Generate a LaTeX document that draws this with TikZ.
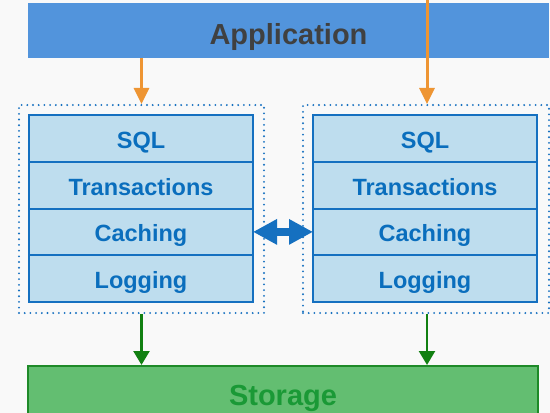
\documentclass[tikz,border=0pt]{standalone}
\usepackage{fontspec}
\setmainfont{Liberation Sans}
\usetikzlibrary{arrows.meta,positioning}
\definecolor{appblue}{HTML}{5294DC}
\definecolor{apptext}{HTML}{404040}
\definecolor{orangeA}{HTML}{EE9533}
\definecolor{cellfill}{HTML}{BEDDEE}
\definecolor{cellblue}{HTML}{1570C0}
\definecolor{celltext}{HTML}{0A6EBD}
\definecolor{stofill}{HTML}{63BE71}
\definecolor{stoline}{HTML}{1E8A28}
\definecolor{stotext}{HTML}{1A9936}
\definecolor{greenA}{HTML}{128012}
\definecolor{backg}{HTML}{F9F9F9}
\tikzset{
    AP/.style ={rectangle,inner sep=0pt,minimum width=521pt,minimum height=55pt,text height=27pt,text depth=0pt,fill=appblue,text=apptext,font=\bfseries\fontsize{29}{30}\selectfont},
    LY/.style ={rectangle,inner sep=0pt,outer sep=0pt,minimum width=224pt,minimum height=46.75pt,text height=20pt,text depth=0pt,draw=cellblue,line width=1.8pt,fill=cellfill,text=celltext,font=\bfseries\fontsize{23.5}{24}\selectfont},
    DV/.style ={draw=cellblue,line width=2pt},
    GR/.style ={rectangle,inner sep=0pt,minimum width=245pt,minimum height=208pt,draw=cellblue,line width=2.1pt,dash pattern=on 0pt off 5.7pt,line cap=round},
    ST/.style ={rectangle,inner sep=0pt,minimum width=510pt,minimum height=59pt,text height=19pt,text depth=0pt,fill=stofill,draw=stoline,line width=2pt,text=stotext,font=\bfseries\fontsize{29}{30}\selectfont},
    OA/.style ={draw=orangeA,line width=3pt,-{Triangle[width=15pt,length=16pt]}},
    GA/.style ={draw=greenA,line width=2.5pt,-{Triangle[width=16pt,length=14pt]}},
    BA/.style ={draw=cellblue,line width=8pt,{Triangle[width=24pt,length=24pt]}-{Triangle[width=24pt,length=24pt]}}}

\begin{document}
\begin{tikzpicture}[x=1pt,y=-1pt]
        \useasboundingbox (0,0) rectangle (550,413);
        \clip (0,0) rectangle (550,413);
        \fill[backg] (0,0) rectangle (550,413);
        % application
        \node[AP] (app) at (288.5,30.5) {Application};
        % the two groups of layers
        \node[GR] (grpA) at (141.5,209) {};
        \node[GR,minimum width=246pt] (grpB) at (426,209) {};
        \node[LY] (sqlA) at (141,138.4) {SQL};
        \node[LY,below=0pt of sqlA] (traA) {Transactions};
        \node[LY,below=0pt of traA] (cacA) {Caching};
        \node[LY,below=0pt of cacA] (logA) {Logging};
        \node[LY] (sqlB) at (425,138.4) {SQL};
        \node[LY,below=0pt of sqlB] (traB) {Transactions};
        \node[LY,below=0pt of traB] (cacB) {Caching};
        \node[LY,below=0pt of cacB] (logB) {Logging};
        \foreach \n in {traA,cacA,logA,traB,cacB,logB}
            \draw[DV] (\n.north west) -- (\n.north east);
        % storage
        \node[ST] (sto) at (283,395.5) {Storage};
        % connectors
        \coordinate (topB) at (427,0);
        \draw[OA] (app.south -| grpA) -- (grpA.north -| grpA);
        \draw[OA] (topB) -- (topB |- grpB.north);
        \draw[BA] (cacA.east) -- (cacB.west);
        \draw[GA] (grpA.south) -- (sto.north -| grpA);
        \draw[GA] (grpB.south -| topB) -- (sto.north -| topB);
    \end{tikzpicture}
\end{document}
